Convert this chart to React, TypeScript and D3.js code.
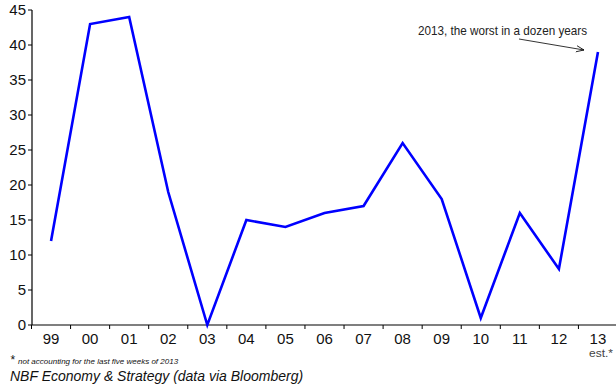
import React from "react";
import * as d3 from "d3";

const categories = ["99","00","01","02","03","04","05","06","07","08","09","10","11","12","13"];
const values = [12,43,44,19,0,15,14,16,17,26,18,1,16,8,39];
const yTicks = [0,5,10,15,20,25,30,35,40,45];

const W = 616, H = 387;

export default function App() {
  const x = d3.scaleBand<string>().domain(categories).range([31.5, 617.5]);
  const y = d3.scaleLinear().domain([0, 45]).range([325, 10]);
  const line = d3.line<number>()
    .x((_, i) => (x(categories[i]) as number) + x.bandwidth() / 2)
    .y(d => y(d));
  const font = "Arial, 'Liberation Sans', sans-serif";
  return (
    <svg width={W} height={H} style={{ position: "absolute", left: 0, top: 0, background: "#fff" }}>
      <defs>
        <marker id="arr" viewBox="0 0 10 10" refX="10" refY="5" markerWidth="8" markerHeight="8" orient="auto" markerUnits="userSpaceOnUse">
          <path d="M0,1 L10,5 L0,9" fill="none" stroke="#000" strokeWidth="1" />
        </marker>
      </defs>
      {/* y axis */}
      <line x1={32} x2={32} y1={y(45)} y2={y(0)} stroke="#000" strokeWidth={1.2} />
      {yTicks.map(t => (
        <g key={t}>
          <line x1={28} x2={32} y1={y(t)} y2={y(t)} stroke="#000" />
          <text x={26} y={y(t) + 5} textAnchor="end" fontSize={15} fontFamily={font} fill="#111">{t}</text>
        </g>
      ))}
      {/* x axis */}
      <line x1={32} x2={W} y1={y(0)} y2={y(0)} stroke="#000" strokeWidth={1.2} />
      {categories.map((c, i) => (
        <g key={c}>
          <line x1={x(c) as number} x2={x(c) as number} y1={y(0)} y2={y(0) + 4} stroke="#000" />
          <text x={(x(c) as number) + x.bandwidth() / 2} y={344} textAnchor="middle" fontSize={15} fontFamily={font} fill="#111">{c}</text>
        </g>
      ))}
      <text x={601} y={357} textAnchor="middle" fontSize={10} fontFamily="'Liberation Sans Narrow', Arial, sans-serif" fill="#444" textLength={24} lengthAdjust="spacingAndGlyphs">est.*</text>
      {/* line */}
      <path d={line(values) || ""} fill="none" stroke="#0000ff" strokeWidth={2.6} strokeLinejoin="miter" />
      {/* annotation */}
      <text x={418} y={35} fontSize={13} fontFamily="'Liberation Sans Narrow', Arial, sans-serif" fill="#222" textLength={169} lengthAdjust="spacingAndGlyphs">2013, the worst in a dozen years</text>
      <line x1={519} y1={39} x2={584} y2={50} stroke="#000" strokeWidth={0.8} markerEnd="url(#arr)" />
      {/* footnotes */}
      <text x={10} y={364} fontSize={12} fontFamily={font} fontStyle="italic" fill="#111">*</text>
      <text x={18} y={364} fontSize={8} fontFamily={font} fontStyle="italic" fill="#111">not accounting for the last five weeks of 2013</text>
      <text x={10} y={381} fontSize={14} fontFamily={font} fontStyle="italic" fill="#111">NBF Economy &amp; Strategy (data via Bloomberg)</text>
    </svg>
  );
}
